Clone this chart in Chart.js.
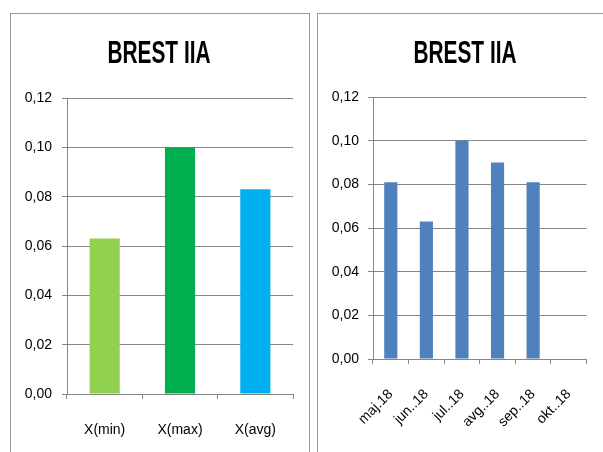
<!DOCTYPE html>
<html>
<head>
<meta charset="utf-8">
<script src="https://cdn.jsdelivr.net/npm/chart.js@4"></script>
<style>
    body { margin: 0; width: 603px; height: 452px; background: #fff; overflow: hidden; position: relative; }
    .box { position: absolute; border: 1px solid #9a9a9a; background: #fff; }
    canvas { position: absolute; }
</style>
</head>
<body>
<div class="box" style="left:10px; top:13px; width:298px; height:460px;"></div>
<div class="box" style="left:317px; top:13px; width:300px; height:460px;"></div>
<canvas id="statsChart" style="left:11px; top:14px; width:298px; height:438px;" width="298" height="438"></canvas>
<canvas id="monthChart" style="left:318px; top:14px; width:285px; height:438px;" width="285" height="438"></canvas>
<script>
// Chart data
const chartTitle = 'BREST IIA';
const statLabels = ['X(min)', 'X(max)', 'X(avg)'];
const statValues = [0.063, 0.100, 0.083];
const statColors = ['#92D050', '#00B050', '#00B0F0'];
const monthLabels = ['maj.18', 'jun..18', 'jul..18', 'avg..18', 'sep..18', 'okt..18'];
const monthValues = [0.081, 0.063, 0.100, 0.090, 0.081, null];
const yTicks = [0, 0.02, 0.04, 0.06, 0.08, 0.10, 0.12];

const gridColor = '#868686';
const labelFont = { family: "'Liberation Sans', Arial, sans-serif", size: 14 };

function yFormat(v) {
    return v.toFixed(2).replace('.', ',');
}

// Condensed bold title (Calibri-like), squeezed with fillText maxWidth
const narrowTitle = {
    id: 'narrowTitle',
    afterDraw(chart, args, opts) {
        const ctx = chart.ctx;
        ctx.save();
        ctx.font = "bold 32px 'Liberation Sans', Arial, sans-serif";
        ctx.fillStyle = '#000';
        ctx.textAlign = 'center';
        ctx.textBaseline = 'alphabetic';
        ctx.fillText(opts.text, opts.x, opts.y, opts.width);
        ctx.restore();
    }
};

// Build options for one of the two panels
function makeOptions(cfg) {
    return {
        responsive: false,
        animation: false,
        layout: { padding: { left: 0, right: cfg.padRight, top: cfg.padTop, bottom: 0 } },
        plugins: {
            legend: { display: false },
            tooltip: { enabled: false },
            title: { display: false },
            narrowTitle: { text: chartTitle, x: cfg.titleX, y: 49, width: 103 }
        },
        scales: {
            x: {
                grid: { drawOnChartArea: false, drawTicks: true, tickLength: 5, color: gridColor },
                border: { display: true, color: gridColor },
                ticks: {
                    color: '#000',
                    font: labelFont,
                    padding: cfg.xPad,
                    minRotation: cfg.rotation,
                    maxRotation: cfg.rotation,
                    autoSkip: false
                },
                afterFit: s => { s.height = cfg.xHeight; }
            },
            y: {
                min: 0,
                max: 0.12,
                afterBuildTicks: s => { s.ticks = yTicks.map(v => ({ value: v })); },
                grid: { color: gridColor, tickLength: 5 },
                border: { display: true, color: gridColor },
                ticks: {
                    color: '#000',
                    font: labelFont,
                    padding: cfg.yPad,
                    callback: v => yFormat(v)
                },
                afterFit: s => { s.width = cfg.yWidth; }
            }
        }
    };
}

new Chart(document.getElementById('statsChart'), {
    type: 'bar',
    data: {
        labels: statLabels,
        datasets: [{
            data: statValues,
            backgroundColor: statColors,
            categoryPercentage: 1,
            barPercentage: 0.4
        }]
    },
    plugins: [narrowTitle],
    options: makeOptions({ padRight: 16, padTop: 84, titleX: 148, xPad: 23, rotation: 0, xHeight: 58, yPad: 10, yWidth: 56 })
});

new Chart(document.getElementById('monthChart'), {
    type: 'bar',
    data: {
        labels: monthLabels,
        datasets: [{
            data: monthValues,
            backgroundColor: '#4F81BD',
            categoryPercentage: 1,
            barPercentage: 0.37
        }]
    },
    plugins: [narrowTitle],
    options: makeOptions({ padRight: 5, padTop: 83, titleX: 147, xPad: 22, rotation: 45, xHeight: 93, yPad: 9, yWidth: 55 })
});
</script>
</body>
</html>
